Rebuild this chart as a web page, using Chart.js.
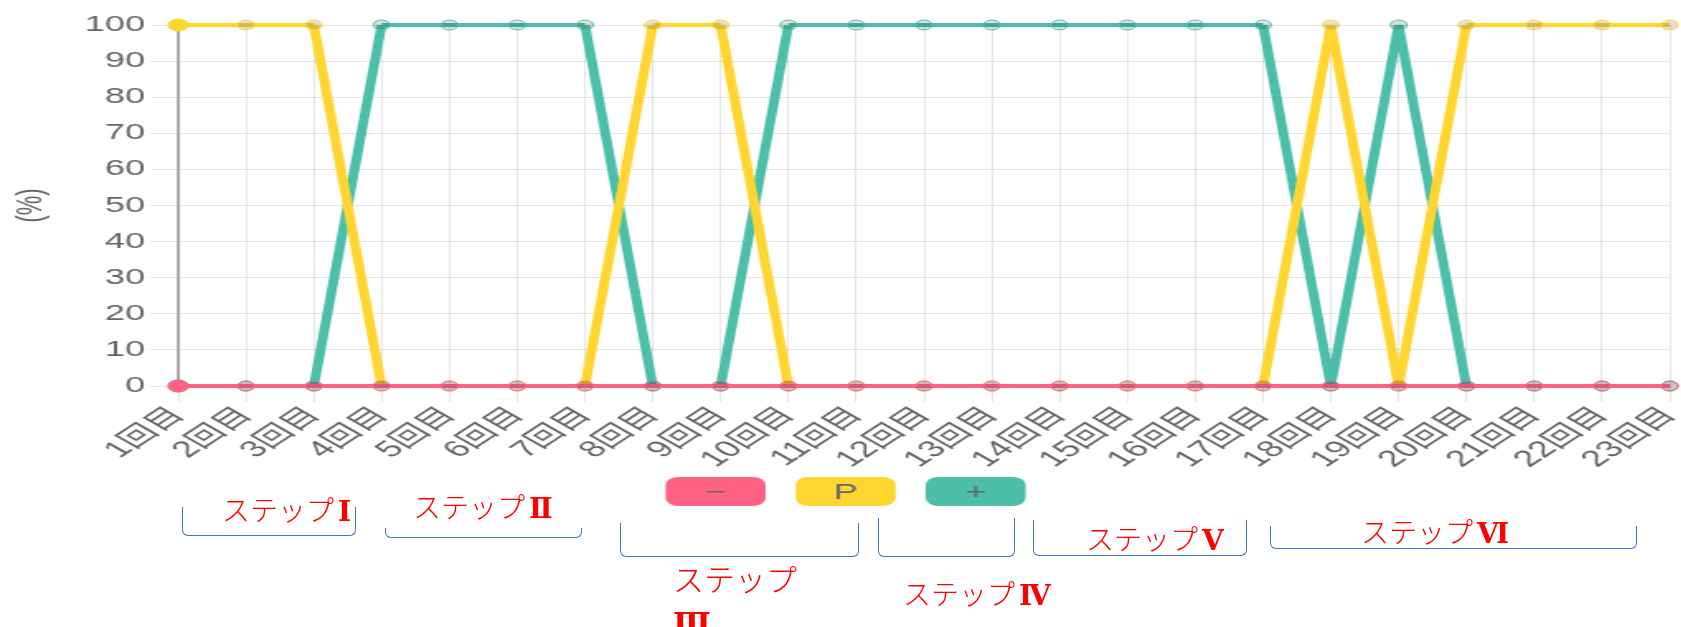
<!DOCTYPE html>
<html>
<head>
<meta charset="utf-8">
<script src="https://cdn.jsdelivr.net/npm/chart.js@4"></script>
<style>
  html, body { margin: 0; padding: 0; background: #fff; overflow: hidden; }
  body { width: 1681px; height: 627px; position: relative; }
  #wrap { position: absolute; left: 0; top: 0; width: 1019px; height: 627px; transform: scaleX(1.65); transform-origin: 0 0; }
  .bracket { position: absolute; border: 1.5px solid #4472c4; border-top: none; border-radius: 0 0 6px 6px; box-sizing: border-box; }
  .step { position: absolute; color: #f00; font-family: 'Noto Sans CJK JP', sans-serif; font-weight: 300; font-size: 28px; line-height: 1; white-space: nowrap; }
  .step b { font-family: 'DejaVu Serif', 'Liberation Serif', serif; font-weight: bold; margin-left: 4px; }
</style>
</head>
<body>
<div id="wrap"><canvas id="stepChart"></canvas></div>

<div class="bracket" style="left:182px;top:507px;width:174px;height:29px"></div>
<div class="bracket" style="left:385px;top:528px;width:197px;height:10px"></div>
<div class="bracket" style="left:620px;top:523px;width:239px;height:34px"></div>
<div class="bracket" style="left:878px;top:518px;width:137px;height:39px"></div>
<div class="bracket" style="left:1033px;top:520px;width:214px;height:36px"></div>
<div class="bracket" style="left:1270px;top:526px;width:367px;height:23px"></div>

<div class="step" style="left:222px;top:495px">ステップ<b>Ⅰ</b></div>
<div class="step" style="left:413px;top:492px">ステップ<b>Ⅱ</b></div>
<div class="step" style="left:673px;top:556px;font-size:31px;line-height:44px">ステップ<br><b style="margin-left:0">Ⅲ</b></div>
<div class="step" style="left:903px;top:579px">ステップ<b>Ⅳ</b></div>
<div class="step" style="left:1086px;top:524px">ステップ<b>Ⅴ</b></div>
<div class="step" style="left:1361px;top:517px">ステップ<b>Ⅵ</b></div>

<script>
  const labels = ['1回目', '2回目', '3回目', '4回目', '5回目', '6回目', '7回目', '8回目',
    '9回目', '10回目', '11回目', '12回目', '13回目', '14回目', '15回目', '16回目',
    '17回目', '18回目', '19回目', '20回目', '21回目', '22回目', '23回目'];

  const minusValues = [0, 0, 0, 0, 0, 0, 0, 0, 0, 0, 0, 0, 0, 0, 0, 0, 0, 0, 0, 0, 0, 0, 0];
  const pValues     = [100, 100, 100, 0, 0, 0, 0, 100, 100, 0, 0, 0, 0, 0, 0, 0, 0, 100, 0, 100, 100, 100, 100];
  const plusValues  = [0, 0, 0, 100, 100, 100, 100, 0, 0, 100, 100, 100, 100, 100, 100, 100, 100, 0, 100, 0, 0, 0, 0];

  const yTickValues = [0, 10, 20, 30, 40, 50, 60, 70, 80, 90, 100];

  Chart.defaults.font.family = "'Liberation Sans', 'Noto Sans CJK JP', sans-serif";
  Chart.defaults.color = '#666';

  const pointFill = (color) => labels.map((_, i) => i === 0 ? color : 'rgba(0,0,0,0.12)');
  const pointSize = labels.map((_, i) => i === 0 ? 6 : 5);

  function makeSet(label, color, values) {
    return {
      label: label,
      data: values,
      borderColor: color,
      backgroundColor: color,
      fill: false,
      tension: 0,
      clip: 10,
      borderWidth: 4,
      borderJoinStyle: 'bevel',
      segment: {
        borderWidth: ctx => ctx.p0.parsed.y === ctx.p1.parsed.y ? 4 : 6
      },
      pointRadius: pointSize,
      pointBorderWidth: 1,
      pointBorderColor: color,
      pointBackgroundColor: pointFill(color)
    };
  }

  // legend drawn as rounded boxes with the label inside
  const boxLegend = {
    id: 'boxLegend',
    afterDraw(chart, args, opts) {
      const ctx = chart.ctx;
      const sets = chart.data.datasets;
      const total = sets.length * opts.boxWidth + (sets.length - 1) * opts.gap;
      let x = (chart.width - total) / 2 + opts.offsetX;
      ctx.save();
      sets.forEach(ds => {
        ctx.fillStyle = ds.borderColor;
        ctx.beginPath();
        ctx.roundRect(x, opts.top, opts.boxWidth, opts.boxHeight, 8);
        ctx.fill();
        ctx.fillStyle = '#666';
        ctx.font = "22px 'Liberation Sans', sans-serif";
        ctx.textAlign = 'center';
        ctx.textBaseline = 'middle';
        ctx.fillText(ds.label, x + opts.boxWidth / 2, opts.top + opts.boxHeight / 2 + 1);
        x += opts.boxWidth + opts.gap;
      });
      ctx.restore();
    }
  };

  const ctx = document.getElementById('stepChart');

  new Chart(ctx, {
    type: 'line',
    data: {
      labels: labels,
      datasets: [
        makeSet('−', '#ff6384', minusValues),
        makeSet('P', '#ffd530', pValues),
        makeSet('+', '#4bbfa9', plusValues)
      ]
    },
    options: {
      responsive: true,
      maintainAspectRatio: false,
      animation: false,
      layout: {
        padding: { top: 25, right: 6, bottom: 141, left: 0 }
      },
      plugins: {
        legend: { display: false },
        tooltip: { enabled: false },
        boxLegend: { top: 477, boxWidth: 60.6, boxHeight: 29, gap: 18.2, offsetX: 3 }
      },
      scales: {
        x: {
          afterFit: scale => {
            scale.height = 100;
            scale.paddingLeft = 0;
            scale.paddingRight = 0;
          },
          grid: { color: 'rgba(0,0,0,0.1)', tickLength: 16 },
          border: { color: 'rgba(0,0,0,0.1)' },
          ticks: { color: '#666', font: { size: 23 }, autoSkip: false, minRotation: 47, maxRotation: 47, padding: 0 }
        },
        y: {
          min: 0,
          max: 100,
          afterFit: scale => { scale.width = 108; },
          afterBuildTicks: scale => { scale.ticks = yTickValues.map(v => ({ value: v })); },
          grid: { color: 'rgba(0,0,0,0.1)', tickLength: 17 },
          border: { color: 'rgba(0,0,0,0.3)', width: 2 },
          ticks: { color: '#666', font: { size: 22 }, padding: 3 },
          title: { display: true, text: '(%)', color: '#666', font: { size: 22 }, padding: { top: 6, bottom: 4 } }
        }
      }
    },
    plugins: [boxLegend]
  });
</script>
</body>
</html>
